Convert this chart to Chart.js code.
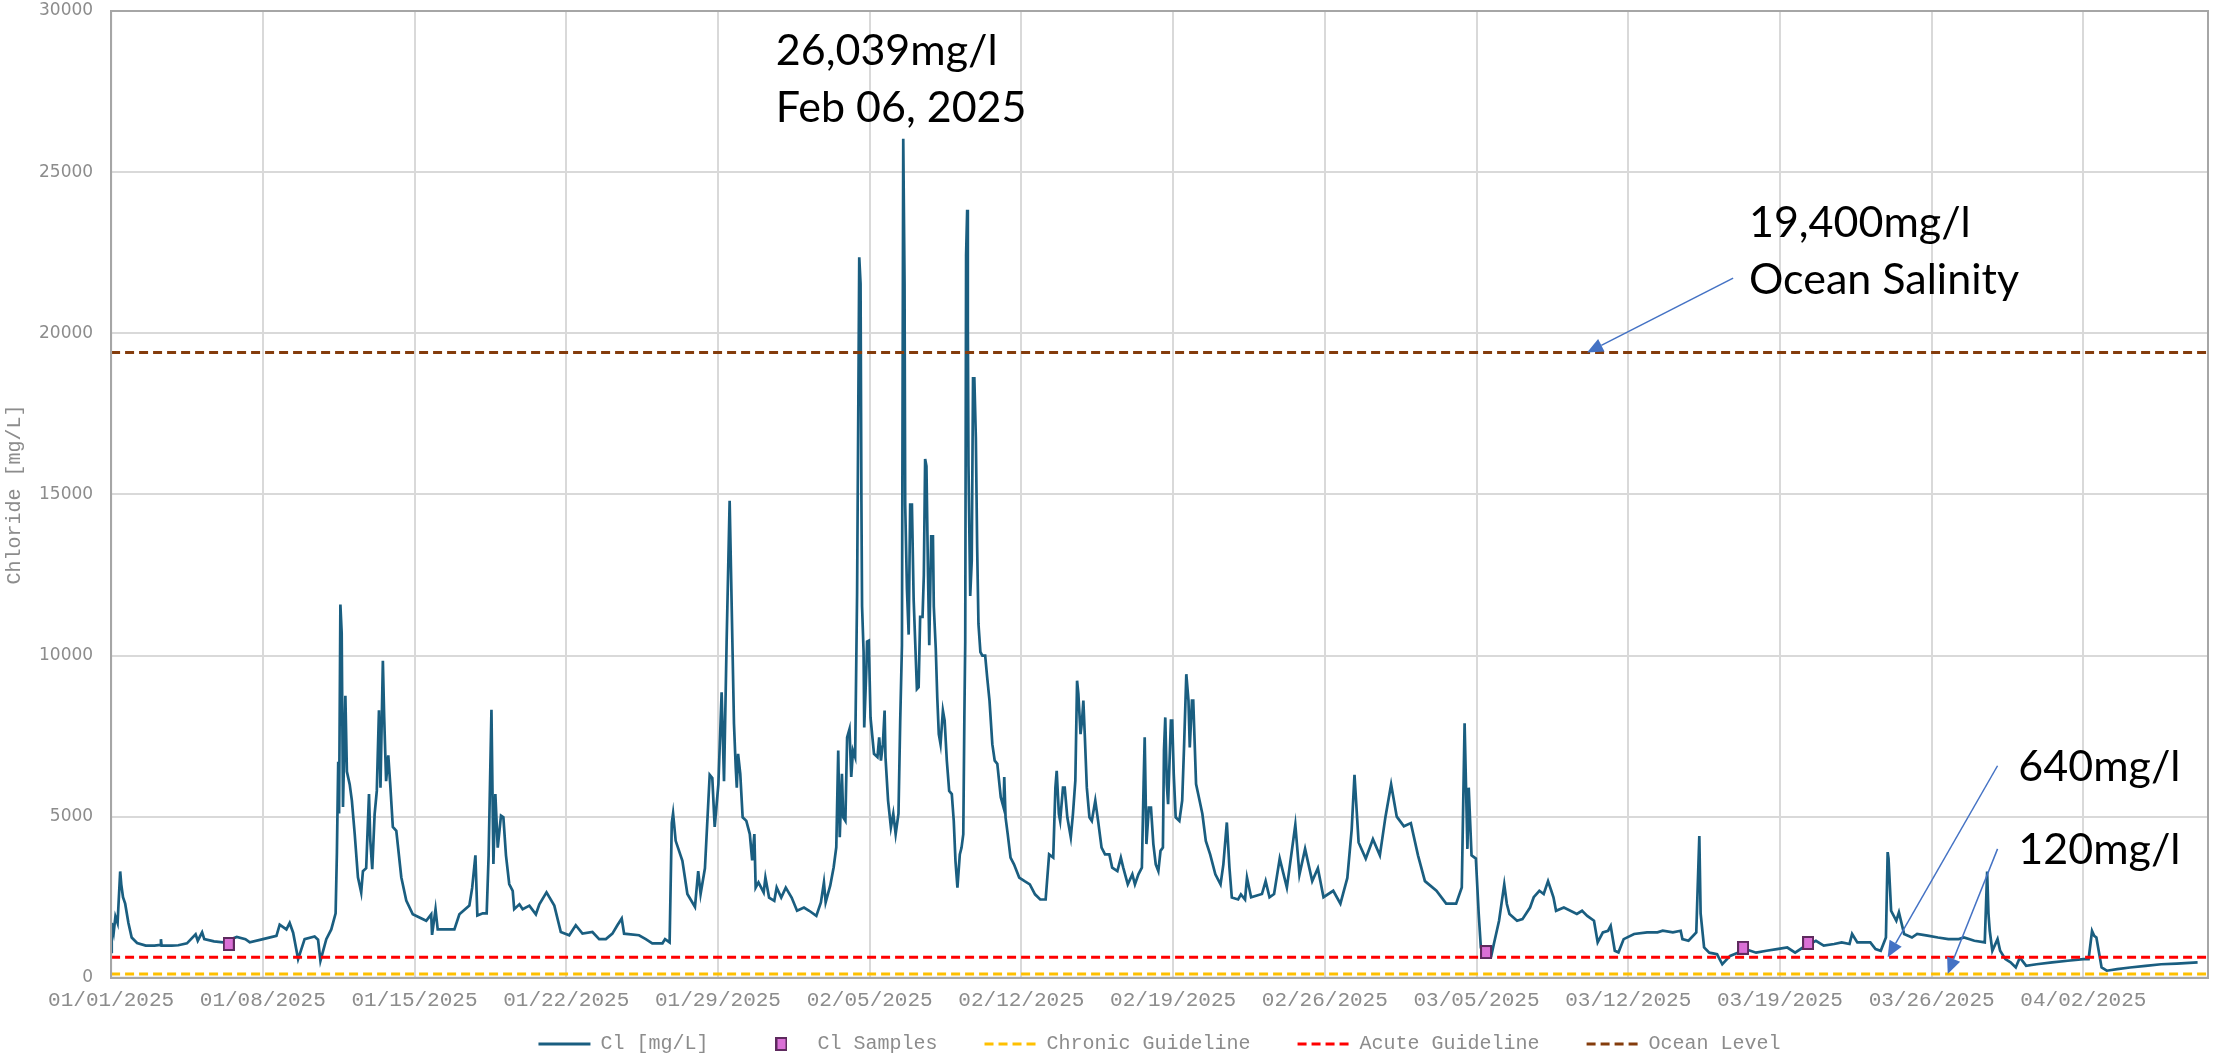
<!DOCTYPE html>
<html>
<head>
<meta charset="utf-8">
<script src="https://cdn.jsdelivr.net/npm/chart.js@4.4.1/dist/chart.umd.min.js"></script>
<style>
html, body { margin: 0; padding: 0; background: #fff; }
</style>
</head>
<body>
<canvas id="myChart" width="2216" height="1059"></canvas>
<script>
// days since 01/01/2025 00:00 and chloride in mg/L
const clDays = [
    0.00, 0.03, 0.12, 0.20, 0.30, 0.42, 0.47, 0.55, 0.65, 0.80, 0.95, 1.20, 1.60, 2.00, 2.28, 2.30, 2.33, 2.80,
    3.10, 3.50, 3.90, 4.00, 4.20, 4.30, 4.75, 5.17, 5.80, 6.20, 6.40, 7.01, 7.63, 7.78, 8.09, 8.24, 8.40, 8.63,
    8.93, 9.39, 9.55, 9.66, 9.93, 10.16, 10.36, 10.42, 10.48, 10.52, 10.58, 10.64, 10.70, 10.81, 10.88, 11.01,
    11.11, 11.24, 11.39, 11.54, 11.62, 11.77, 11.90, 11.96, 12.05, 12.16, 12.26, 12.36, 12.43, 12.54, 12.60,
    12.69, 12.79, 12.88, 13.00, 13.16, 13.39, 13.62, 13.92, 14.23, 14.54, 14.77, 14.81, 14.97, 15.07, 15.46,
    15.84, 16.07, 16.53, 16.66, 16.81, 16.90, 17.15, 17.33, 17.42, 17.55, 17.64, 17.73, 17.84, 17.99, 18.10,
    18.22, 18.37, 18.53, 18.60, 18.84, 18.99, 19.30, 19.60, 19.76, 20.09, 20.45, 20.75, 21.14, 21.44, 21.75,
    22.21, 22.52, 22.83, 23.13, 23.36, 23.56, 23.67, 24.36, 24.67, 24.97, 25.44, 25.56, 25.77, 25.87, 25.93,
    26.05, 26.36, 26.59, 26.94, 27.09, 27.20, 27.40, 27.62, 27.74, 27.85, 28.02, 28.17, 28.28, 28.40, 28.54,
    28.74, 28.82, 28.87, 28.93, 29.03, 29.14, 29.31, 29.47, 29.58, 29.68, 29.74, 29.87, 30.11, 30.19, 30.36,
    30.60, 30.71, 30.92, 31.13, 31.40, 31.65, 31.97, 32.21, 32.54, 32.75, 32.89, 32.97, 33.18, 33.34, 33.46,
    33.55, 33.62, 33.72, 33.78, 33.88, 33.96, 34.07, 34.15, 34.23, 34.33, 34.42, 34.49, 34.52, 34.58, 34.62,
    34.65, 34.72, 34.75, 34.85, 34.88, 34.96, 35.04, 35.20, 35.36, 35.44, 35.52, 35.61, 35.69, 35.73, 35.85,
    35.98, 36.09, 36.20, 36.33, 36.41, 36.49, 36.55, 36.61, 36.64, 36.72, 36.80, 36.87, 36.95, 37.03, 37.18,
    37.26, 37.33, 37.44, 37.50, 37.56, 37.62, 37.69, 37.75, 37.84, 37.92, 37.96, 38.05, 38.12, 38.19, 38.27,
    38.38, 38.46, 38.56, 38.67, 38.79, 38.88, 38.96, 39.05, 39.16, 39.24, 39.32, 39.37, 39.41, 39.45, 39.50,
    39.53, 39.56, 39.64, 39.71, 39.77, 39.83, 39.90, 39.96, 40.02, 40.11, 40.20, 40.33, 40.42, 40.53, 40.66,
    40.77, 40.89, 41.05, 41.18, 41.21, 41.27, 41.37, 41.50, 41.66, 41.90, 42.15, 42.39, 42.63, 42.87, 43.12,
    43.28, 43.47, 43.57, 43.63, 43.73, 43.79, 43.92, 44.00, 44.12, 44.28, 44.38, 44.49, 44.57, 44.63, 44.73,
    44.80, 44.86, 44.93, 45.02, 45.14, 45.25, 45.41, 45.54, 45.70, 45.86, 46.06, 46.19, 46.43, 46.59, 46.70,
    46.91, 47.12, 47.24, 47.40, 47.56, 47.64, 47.69, 47.77, 47.88, 47.98, 48.09, 48.20, 48.32, 48.42, 48.53,
    48.58, 48.64, 48.71, 48.77, 48.90, 48.96, 49.03, 49.12, 49.29, 49.42, 49.51, 49.61, 49.71, 49.77, 49.87,
    49.93, 50.06, 50.19, 50.35, 50.51, 50.71, 50.95, 51.19, 51.32, 51.48, 51.60, 51.71, 52.00, 52.13, 52.32,
    52.41, 52.60, 53.10, 53.27, 53.45, 53.66, 53.92, 54.25, 54.64, 54.83, 55.09, 55.42, 55.68, 55.94, 56.39,
    56.72, 57.04, 57.24, 57.37, 57.56, 57.89, 58.22, 58.54, 58.80, 59.06, 59.32, 59.65, 59.97, 60.30, 60.62,
    61.15, 61.60, 62.06, 62.32, 62.45, 62.58, 62.64, 62.77, 62.97, 63.10, 63.20, 63.32, 63.44, 63.68, 63.80,
    64.04, 64.28, 64.40, 64.52, 64.87, 65.12, 65.47, 65.64, 65.90, 66.10, 66.30, 66.45, 66.55, 66.67, 67.03,
    67.63, 67.87, 68.11, 68.42, 68.59, 68.83, 69.07, 69.19, 69.38, 69.55, 69.79, 70.27, 70.87, 71.35, 71.59,
    72.06, 72.42, 72.50, 72.78, 73.14, 73.28, 73.34, 73.50, 73.74, 74.10, 74.34, 74.70, 75.06, 75.18, 75.90,
    76.38, 76.86, 77.34, 77.70, 78.06, 78.66, 79.02, 79.50, 79.85, 80.21, 80.33, 80.57, 81.17, 81.41, 81.65,
    81.89, 81.97, 82.01, 82.13, 82.37, 82.49, 82.73, 83.09, 83.33, 83.81, 84.29, 84.77, 85.25, 85.49, 85.97,
    86.45, 86.56, 86.62, 86.68, 86.80, 87.04, 87.16, 87.40, 87.64, 87.88, 88.07, 88.24, 88.36, 88.84, 89.56,
    90.28, 91.00, 91.24, 91.40, 91.50, 91.60, 91.84, 92.08, 92.56, 93.15, 93.87, 94.59, 95.31, 96.27
];
const clValues = [
    800, 1700, 1400, 1900, 1700, 3300, 2900, 2500, 2300, 1700, 1250, 1080, 1000, 1000, 1020, 1200, 1000, 1000,
    1010, 1070, 1350, 1150, 1410, 1200, 1130, 1100, 1270, 1200, 1100, 1200, 1300, 1650, 1500, 1700, 1400, 580,
    1200, 1280, 1180, 530, 1200, 1500, 2000, 3900, 6700, 5100, 11580, 10700, 5300, 8750, 6400, 6000,
    5500, 4470, 3120, 2650, 3310, 3400, 5700, 4260, 3370, 5080, 5800, 8300, 5900, 9840, 8100,
    6100, 6900, 6000, 4680, 4560, 3120, 2400, 1970, 1870, 1770, 1970, 1330, 2130, 1500, 1500,
    1500, 1970, 2240, 2790, 3800, 1930, 2000, 2000, 3800, 8320, 3530, 5700, 4040, 5030, 4980,
    3800, 2910, 2700, 2130, 2280, 2130, 2240, 1970, 2280, 2650, 2240, 1420, 1320, 1630, 1370,
    1420, 1200, 1200, 1370, 1630, 1840, 1370, 1320, 1200, 1070, 1070, 1200, 1100, 4800, 5100,
    4250, 3630, 2600, 2200, 3310, 2600, 3400, 6300, 6200, 4680, 6000, 8860, 6100, 10400, 14800,
    7880, 6540, 5900, 6950, 6330, 4980, 4870, 4460, 3640, 4460, 2800, 2960, 2650, 3110, 2490,
    2390, 2800, 2490, 2800, 2490, 2080, 2180, 2080, 1920, 2340, 2960, 2340, 2860, 3430, 4050,
    7050, 4360, 6330, 4980, 4870, 7460, 7720, 6230, 7050, 6850, 11900, 19150, 22360, 21540, 14790,
    11520, 10110, 7770, 9630, 10430, 10460, 8080, 6950, 6850, 7460, 6740, 7250, 8290, 6850, 5500,
    4670, 5090, 4460, 5090, 7980, 10320, 26039, 21540, 14680, 12070, 10650, 14680, 14680, 11740, 8960,
    9020, 11200, 11200, 12500, 16100, 15880, 12610, 10320, 13700, 13700, 11520, 10220, 8690, 7560, 7250,
    8290, 7980, 6740, 5800, 5700, 4870, 3620, 2800, 3830, 4040, 4460, 8080, 10430, 22420, 23830,
    20240, 15880, 11850, 12940, 18600, 18600, 16750, 13370, 10980, 10110, 10000, 10000, 9340, 8600, 7250,
    6740, 6640, 5600, 5280, 6230, 4980, 4460, 3730, 3520, 3110, 3000, 2900, 2590, 2430, 2430,
    3830, 3730, 5900, 6420, 5090, 4870, 5900, 5900, 4980, 4360, 5090, 6120, 9220, 8810, 7560,
    7980, 8600, 7460, 5900, 4980, 4870, 5500, 4870, 4040, 3830, 3830, 3420, 3310, 3730, 3420,
    2900, 3210, 2900, 3210, 3420, 6010, 7460, 4150, 5280, 5280, 4150, 3520, 3310, 3940, 4040,
    7050, 8080, 6010, 5390, 7980, 7980, 6330, 4980, 4870, 5500, 7250, 9420, 8600, 7150, 8600,
    8600, 6010, 5600, 5090, 4250, 3830, 3210, 2900, 3520, 4820, 3420, 2490, 2430, 2590, 2430,
    3110, 2500, 2600, 3000, 2500, 2600, 3700, 2800, 4750, 3200, 4000, 3000, 3400, 2500, 2700,
    2300, 3100, 4600, 6300, 4200, 3700, 4300, 3800, 5000, 6000, 5000, 4700, 4800, 3800, 3000,
    2700, 2300, 2300, 2800, 7900, 4000, 5900, 3800, 3700, 2000, 940, 680, 700, 680, 1050,
    1770, 2900, 2290, 1980, 1770, 1820, 2180, 2500, 2700, 2600, 3000, 2700, 2500, 2080, 2180,
    1980, 2080, 1920, 1770, 1100, 1410, 1460, 1610, 840, 790, 1200, 1360, 1410, 1410, 1460,
    1410, 1460, 1200, 1150, 1410, 4400, 2000, 940, 780, 730, 420, 680, 780, 940, 780,
    840, 890, 940, 780, 940, 1150, 1000, 1050, 1100, 1050, 1360, 1100, 1100, 890, 840,
    1250, 3900, 3700, 2080, 1770, 2030, 1360, 1250, 1360, 1310, 1250, 1200, 1200, 1250, 1150,
    1100, 3300, 2000, 1460, 840, 1200, 840, 580, 480, 320, 630, 480, 370, 420, 480,
    530, 580, 580, 1450, 1300, 1250, 320, 220, 270, 320, 370, 420, 440, 480
];

// lab samples
const sampleDays = [5.43, 63.44, 75.30, 78.30];
const sampleValues = [1050, 800, 930, 1080];

// horizontal reference levels
const guideNames = ['Chronic Guideline', 'Acute Guideline', 'Ocean Level'];
const guideValues = [120, 640, 19400];
const guideColors = ['#FFC000', '#FF0000', '#843C0C'];

// axis
const X_MAX = 96.75;
const Y_MAX = 30000;

// call-outs: text anchored at (day, value) of the first baseline
const noteLines = [['26,039mg/l', 'Feb 06, 2025'], ['19,400mg/l', 'Ocean Salinity'], ['640mg/l'], ['120mg/l']];
const noteDays = [30.67, 75.57, 88.0, 88.0];
const noteValues = [28320, 22980, 6120, 3540];
const arrowFrom = [[74.84, 21710], [87.04, 6580], [87.04, 4000]];
const arrowTo = [[68.1, 19400], [81.97, 640], [84.74, 120]];

const GRAY = '#8c8c8c';
const MONO = "'Liberation Mono', monospace";

function dayLabel(v) {
    const dt = new Date(Date.UTC(2025, 0, 1) + Math.round(v * 86400000));
    const mm = String(dt.getUTCMonth() + 1).padStart(2, '0');
    const dd = String(dt.getUTCDate()).padStart(2, '0');
    return `${mm}/${dd}/${dt.getUTCFullYear()}`;
}

function makeSampleMarker() {
    const c = document.createElement('canvas');
    c.width = 12;
    c.height = 14;
    const g = c.getContext('2d');
    g.fillStyle = '#DA70D6';
    g.fillRect(0, 0, 12, 14);
    g.strokeStyle = '#5E2A5E';
    g.lineWidth = 2;
    g.strokeRect(1, 1, 10, 12);
    return c;
}
const sampleMarker = makeSampleMarker();

function buildDatasets() {
    let datasets = [];
    datasets.push({
        label: 'Cl [mg/L]',
        data: clDays.map((d, i) => ({ x: d, y: clValues[i] })),
        borderColor: '#1A5E80',
        backgroundColor: '#1A5E80',
        borderWidth: 2.7,
        pointRadius: 0,
        order: 5,
        legendStyle: 'line'
    });
    datasets.push({
        label: 'Cl Samples',
        data: sampleDays.map((d, i) => ({ x: d, y: sampleValues[i] })),
        showLine: false,
        pointStyle: sampleMarker,
        pointRadius: 7,
        borderColor: '#5E2A5E',
        backgroundColor: '#DA70D6',
        order: 0,
        legendStyle: sampleMarker
    });
    for (let i = 0; i < guideNames.length; i++) {
        datasets.push({
            label: guideNames[i],
            data: [{ x: 0, y: guideValues[i] }, { x: X_MAX, y: guideValues[i] }],
            borderColor: guideColors[i],
            backgroundColor: guideColors[i],
            borderWidth: 3,
            borderDash: [9, 5],
            pointRadius: 0,
            order: 1 + i,
            legendStyle: 'line'
        });
    }
    return datasets;
}

function drawArrow(ctx, x0, y0, x1, y1) {
    const ang = Math.atan2(y1 - y0, x1 - x0);
    const len = 16, half = 7;
    const bx = x1 - len * Math.cos(ang), by = y1 - len * Math.sin(ang);
    ctx.beginPath();
    ctx.moveTo(x0, y0);
    ctx.lineTo(bx, by);
    ctx.stroke();
    ctx.beginPath();
    ctx.moveTo(x1, y1);
    ctx.lineTo(bx + half * Math.sin(ang), by - half * Math.cos(ang));
    ctx.lineTo(bx - half * Math.sin(ang), by + half * Math.cos(ang));
    ctx.closePath();
    ctx.fill();
}

const notesPlugin = {
    id: 'notes',
    afterDraw(chart) {
        const { ctx, chartArea, scales: { x, y } } = chart;
        ctx.save();
        ctx.strokeStyle = '#a6a6a6';
        ctx.lineWidth = 2;
        ctx.strokeRect(chartArea.left, chartArea.top, chartArea.right - chartArea.left, chartArea.bottom - chartArea.top);

        ctx.strokeStyle = '#4472C4';
        ctx.fillStyle = '#4472C4';
        ctx.lineWidth = 1.5;
        for (let i = 0; i < arrowFrom.length; i++) {
            drawArrow(ctx,
                x.getPixelForValue(arrowFrom[i][0]), y.getPixelForValue(arrowFrom[i][1]),
                x.getPixelForValue(arrowTo[i][0]), y.getPixelForValue(arrowTo[i][1]));
        }

        ctx.fillStyle = '#000';
        ctx.font = "43px Lato, 'Open Sans', sans-serif";
        ctx.textBaseline = 'alphabetic';
        ctx.textAlign = 'left';
        noteLines.forEach((lines, i) => {
            const px = x.getPixelForValue(noteDays[i]);
            const py = y.getPixelForValue(noteValues[i]);
            lines.forEach((t, j) => ctx.fillText(t, px, py + j * 57));
        });
        ctx.restore();
    }
};

function createChart() {
    const cfg = {
        type: 'line',
        data: { datasets: buildDatasets() },
        options: {
            responsive: false,
            animation: false,
            devicePixelRatio: 1,
            layout: { padding: { left: 0, right: 4, top: 11, bottom: -5 } },
            plugins: {
                legend: {
                    position: 'bottom',
                    fullSize: false,
                    labels: {
                        usePointStyle: true,
                        pointStyleWidth: 52,
                        padding: 11,
                        color: GRAY,
                        font: { family: MONO, size: 20 },
                        generateLabels: function (chart) {
                            const last = chart.data.datasets.length - 1;
                            return chart.data.datasets.map((ds, i) => ({
                                text: ds.label + (i < last ? '   ' : ''),
                                fillStyle: ds.backgroundColor,
                                strokeStyle: ds.borderColor,
                                lineWidth: ds.legendStyle === 'line' ? 3 : 0,
                                lineDash: ds.borderDash || [],
                                pointStyle: ds.legendStyle,
                                fontColor: GRAY,
                                hidden: false,
                                datasetIndex: i
                            }));
                        }
                    }
                },
                tooltip: { enabled: false }
            },
            scales: {
                x: {
                    type: 'linear',
                    min: 0,
                    max: X_MAX,
                    afterBuildTicks: function (axis) {
                        axis.ticks = axis.ticks.filter(t => t.value % 7 === 0);
                    },
                    ticks: {
                        stepSize: 7,
                        autoSkip: false,
                        maxRotation: 0,
                        padding: 10,
                        color: GRAY,
                        font: { family: MONO, size: 21 },
                        callback: function (v) { return dayLabel(v); }
                    },
                    grid: { color: '#d9d9d9', lineWidth: 2, drawTicks: false },
                    border: { color: '#a6a6a6', width: 2 }
                },
                y: {
                    min: 0,
                    max: Y_MAX,
                    afterFit: function (axis) {
                        axis.paddingTop = 0;
                        axis.paddingBottom = 0;
                    },
                    ticks: {
                        stepSize: 5000,
                        padding: 18,
                        color: GRAY,
                        font: { family: "'DejaVu Sans', sans-serif", size: 17 },
                        callback: function (v) { return String(v); }
                    },
                    title: {
                        display: true,
                        text: 'Chloride [mg/L]',
                        color: GRAY,
                        font: { family: MONO, size: 20 },
                        padding: { top: 3, bottom: -6 }
                    },
                    grid: { color: '#d9d9d9', lineWidth: 2, drawTicks: false },
                    border: { color: '#a6a6a6', width: 2 }
                }
            }
        },
        plugins: [notesPlugin]
    };
    return new Chart(document.getElementById('myChart'), cfg);
}

const chart = createChart();
</script>
</body>
</html>
